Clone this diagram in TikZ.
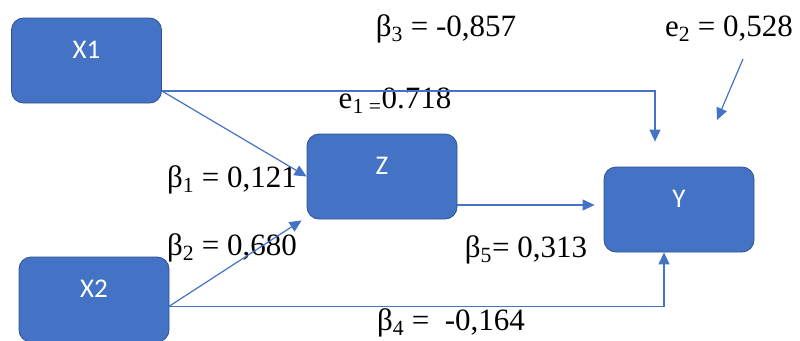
\documentclass[tikz,border=0pt]{standalone}
\usepackage{fontspec}
\setmainfont{Liberation Serif}
\newfontfamily\boxfont{Carlito}
\usetikzlibrary{arrows.meta, positioning, calc}
\definecolor{officeblue}{RGB}{68,114,196}
\definecolor{boxedge}{RGB}{47,82,143}

\begin{document}
\begin{tikzpicture}[
  x=1pt, y=-1pt,
  varbox/.style={draw=boxedge, line width=0.8pt, fill=officeblue, rounded corners=12pt, minimum width=150pt, minimum height=85pt, text=white},
  boxlbl/.style={text=white, font=\boxfont\fontsize{27}{27}\selectfont},
  link/.style={officeblue, line width=1.2pt, -{Triangle[length=12pt, width=11pt]}},
  coef/.style={anchor=base, inner sep=0pt, font=\fontsize{31}{31}\selectfont},
]
\useasboundingbox (0,0) rectangle (800,340);
\node[varbox] (X1) at (86.5,60.5) {};
\node[varbox] (X2) at (94,299.5) {};
\node[varbox] (Z) at (382,176.5) {};
\node[varbox] (Y) at (679,209.5) {};
\foreach \v in {X1,X2,Z,Y}
  \node[boxlbl] (\v lbl) at ([yshift=11pt]\v.center) {\v};
% path coefficients
\node[coef] (b3) at (446,36) {β\textsubscript{3} = -0,857};
\node[coef] (e2) at (729,36) {e\textsubscript{2} = 0,528};
\node[coef] (e1) at (395,108) {e\textsubscript{1 =}0.718};
\node[coef] (b1) at (232,187) {β\textsubscript{1} = 0,121};
\node[coef] (b2) at (232,255) {β\textsubscript{2} = 0,680};
\node[coef] (b5) at (526,257) {β\textsubscript{5}= 0,313};
\node[coef] (b4) at (451,330) {β\textsubscript{4} = \ -0,164};
% arrows
\coordinate (zout) at ([yshift=-28.5pt]Z.east);
\coordinate (e2tail) at (743,59);
\coordinate (e2head) at (717,120);
\draw[link] (X1.-22.6) -- (Z.west);
\draw[link] (X1.-22.6) -| ([xshift=-24pt,yshift=25pt]Y.north);
\draw[link] (X2.-5.3) -- ([xshift=-5pt,yshift=-1pt]Z.south west);
\draw[link] (X2.-5.3) -| ([xshift=-15pt]Y.south);
\draw[link, shorten >=9pt] (zout) -- (zout -| Y.west);
\draw[link] (e2tail) -- (e2head);
\end{tikzpicture}
\end{document}
